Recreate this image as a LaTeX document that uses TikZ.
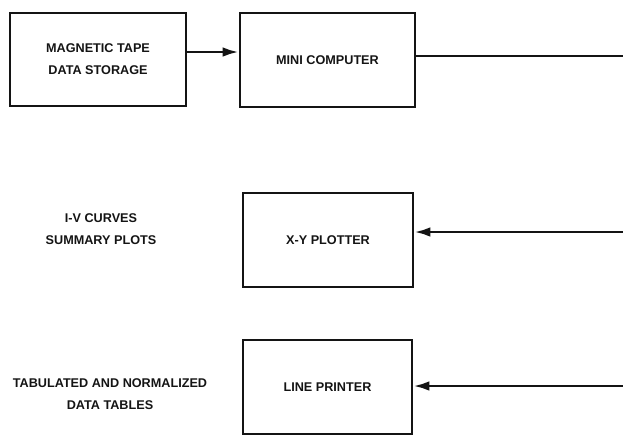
\documentclass[tikz,border=0pt]{standalone}
\usepackage{fontspec}
\setmainfont{Liberation Sans}
\usetikzlibrary{arrows.meta,positioning}
\definecolor{tapeink}{HTML}{141414}
\tikzset{
  bx/.style={draw=tapeink, line width=1.9pt, align=center, font=\fontsize{9}{15.6}\selectfont\bfseries, text=tapeink, inner sep=0pt},
  lbl/.style={align=center, font=\fontsize{9}{15.6}\selectfont\bfseries, text=tapeink},
  arr/.style={-{Latex[length=4mm, width=2.4mm]}, line width=1.9pt, color=tapeink},
  wire/.style={line width=1.9pt, color=tapeink},
}

\begin{document}
\begin{tikzpicture}[x=0.025cm, y=-0.025cm]
    \useasboundingbox (0,0) rectangle (623,436);
    % units
    \node[bx, minimum width=176*0.025cm, minimum height=93*0.025cm] (tape) at (98,59.5) {MAGNETIC TAPE\\DATA STORAGE};
    \node[bx, minimum width=175*0.025cm, minimum height=94*0.025cm] (mini) at (327.5,60) {MINI COMPUTER};
    \node[bx, minimum width=170*0.025cm, minimum height=94*0.025cm] (plot) at (328,240) {X-Y PLOTTER};
    \node[bx, minimum width=169*0.025cm, minimum height=94*0.025cm] (lpr) at (327.5,387) {LINE PRINTER};
    % outputs
    \node[lbl] (curves) at (101,229) {I-V CURVES\\SUMMARY PLOTS};
    \node[lbl] (tables) at (110,394) {TABULATED AND NORMALIZED\\DATA TABLES};
    % bus ends at the right margin
    \coordinate (busa) at (623,56);
    \coordinate (busb) at (623,232);
    \coordinate (busc) at (623,386);
    \draw[arr] (tape.east |- 0,52) -- (mini.west |- 0,52);
    \draw[wire] (mini.east |- busa) -- (busa);
    \draw[arr] (busb) -- (plot.east |- busb);
    \draw[arr] (busc) -- (lpr.east |- busc);
\end{tikzpicture}
\end{document}
